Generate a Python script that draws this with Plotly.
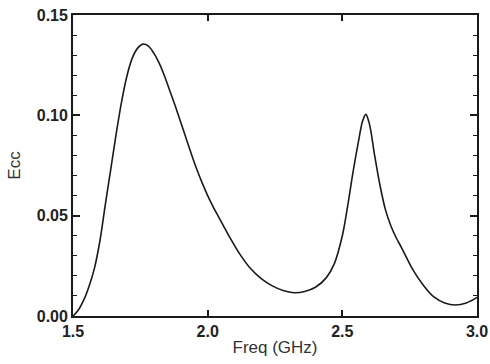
import plotly.graph_objects as go

freq = [1.50, 1.52, 1.54, 1.56, 1.58, 1.60, 1.62, 1.64, 1.66, 1.68,
        1.70, 1.72, 1.74, 1.76, 1.78, 1.80, 1.82, 1.84, 1.86, 1.88,
        1.90, 1.92, 1.94, 1.96, 1.98, 2.00, 2.02, 2.04, 2.08, 2.12, 2.16,
        2.20, 2.24, 2.28, 2.32, 2.36, 2.40, 2.44, 2.47, 2.50, 2.52,
        2.54, 2.56, 2.575, 2.587, 2.60, 2.62, 2.64, 2.66, 2.68, 2.70,
        2.72, 2.76, 2.80, 2.84, 2.88, 2.92, 2.96, 3.00]
ecc = [0.000, 0.003, 0.008, 0.015, 0.024, 0.0375, 0.0555, 0.073, 0.0905, 0.1065,
       0.1195, 0.1285, 0.1335, 0.1355, 0.1345, 0.131, 0.126, 0.1195, 0.112, 0.1045,
       0.0965, 0.0885, 0.0805, 0.073, 0.0662, 0.0600, 0.0545, 0.0495, 0.0397, 0.0307, 0.0235,
       0.0185, 0.015, 0.0127, 0.0116, 0.0122, 0.0143, 0.019, 0.026, 0.040, 0.055,
       0.072, 0.087, 0.097, 0.1005, 0.096, 0.080, 0.065, 0.053, 0.045, 0.039,
       0.034, 0.0235, 0.0155, 0.0095, 0.0065, 0.0055, 0.0065, 0.0093]

x_ticks = [1.5, 2.0, 2.5, 3.0]
x_labels = ["1.5", "2.0", "2.5", "3.0"]
y_ticks = [0.00, 0.05, 0.10, 0.15]
y_labels = ["0.00", "0.05", "0.10", "0.15"]

fig = go.Figure()
fig.add_trace(go.Scatter(x=freq, y=ecc, mode="lines",
                         line=dict(color="#1a1a1a", width=1.6, shape="spline", smoothing=1.0),
                         showlegend=False, hoverinfo="skip"))

tickfont = dict(family="Liberation Sans, Arial, sans-serif", size=16, color="#222", weight="bold")
titlefont = dict(family="Liberation Sans, Arial, sans-serif", size=17, color="#333")
axcol = "#1a1a1a"

fig.update_layout(
    width=490, height=364,
    margin=dict(l=73, r=13, t=15, b=48),
    paper_bgcolor="white", plot_bgcolor="white",
    xaxis=dict(range=[1.5, 3.0], tickvals=x_ticks, ticktext=x_labels, automargin=False,
               ticks="inside", ticklen=6, tickwidth=1.5, tickcolor=axcol,
               showline=True, linecolor=axcol, linewidth=1.8, mirror="ticks",
               showgrid=False, zeroline=False, tickfont=tickfont,
               title=dict(text="Freq (GHz)", font=titlefont, standoff=2)),
    yaxis=dict(range=[0.0, 0.15], tickvals=y_ticks, ticktext=y_labels, automargin=False,
               ticks="inside", ticklen=7, tickwidth=1.5, tickcolor=axcol,
               minor=dict(dtick=0.01, ticks="inside", ticklen=4, tickwidth=1.3,
                          tickcolor=axcol, showgrid=False),
               showline=True, linecolor=axcol, linewidth=1.8, mirror="ticks",
               showgrid=False, zeroline=False, tickfont=tickfont,
               title=dict(text="Ecc", font=titlefont, standoff=12)),
    yaxis2=dict(range=[0.0, 0.15], overlaying="y", side="right", anchor="x",
                tickvals=y_ticks, showticklabels=False, automargin=False,
                ticks="inside", ticklen=7, tickwidth=1.5, tickcolor=axcol,
                minor=dict(dtick=0.01, ticks="inside", ticklen=4, tickwidth=1.3,
                           tickcolor=axcol, showgrid=False),
                showline=False, showgrid=False, zeroline=False),
)

fig.write_html("out.html")
